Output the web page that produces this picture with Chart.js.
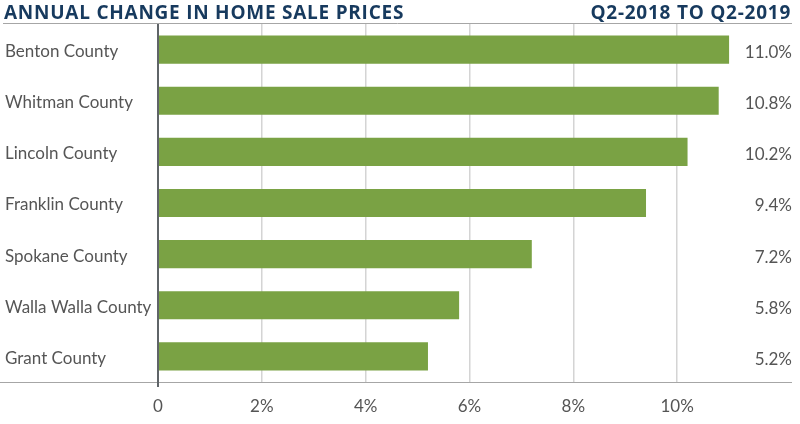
<!DOCTYPE html>
<html>
<head>
<meta charset="utf-8">
<script src="https://cdn.jsdelivr.net/npm/chart.js@4.4.0/dist/chart.umd.min.js"></script>
<style>
  body { margin: 0; background: #fff; }
  #wrap { position: relative; width: 800px; height: 424px; }
  .title { position: absolute; top: 0; font-family: "Open Sans", sans-serif; font-weight: 700;
           font-size: 19px; line-height: 24px; color: #173a5e; letter-spacing: 0.75px; }
  #titleLeft { left: 4px; }
  #titleRight { right: 9px; }
</style>
</head>
<body>
<div id="wrap">
  <canvas id="chart" width="800" height="424"></canvas>
  <div class="title" id="titleLeft">ANNUAL CHANGE IN HOME SALE PRICES</div>
  <div class="title" id="titleRight">Q2-2018 TO Q2-2019</div>
</div>
<script>
// chart data
const counties = ["Benton County", "Whitman County", "Lincoln County", "Franklin County",
                  "Spokane County", "Walla Walla County", "Grant County"];
const priceChange = [11.0, 10.8, 10.2, 9.4, 7.2, 5.8, 5.2];
const xTicks = [0, 2, 4, 6, 8, 10];

const labelFont = { family: "Lato, sans-serif", size: 17 };

// frame lines + value labels at the right
const framePlugin = {
    id: "frame",
    afterDraw(chart) {
        const ctx = chart.ctx;
        const area = chart.chartArea;
        ctx.save();
        ctx.strokeStyle = "#a6a6a6";
        ctx.lineWidth = 1;
        ctx.beginPath();
        ctx.moveTo(3, area.top - 0.5);
        ctx.lineTo(792, area.top - 0.5);
        ctx.moveTo(0, area.bottom + 0.5);
        ctx.lineTo(792, area.bottom + 0.5);
        ctx.stroke();

        // zero line drawn on top
        const x0 = chart.scales.x.getPixelForValue(0);
        ctx.strokeStyle = "#5f6468";
        ctx.lineWidth = 2;
        ctx.beginPath();
        ctx.moveTo(x0, area.top);
        ctx.lineTo(x0, area.bottom + 5);
        ctx.stroke();

        ctx.fillStyle = "#555555";
        ctx.font = "17px Lato, sans-serif";
        ctx.textAlign = "right";
        ctx.textBaseline = "middle";
        const meta = chart.getDatasetMeta(0);
        meta.data.forEach((bar, i) => {
            ctx.fillText(priceChange[i].toFixed(1) + "%", 792, bar.y + 3);
        });
        ctx.restore();
    }
};

new Chart(document.getElementById("chart"), {
    type: "bar",
    data: {
        labels: counties,
        datasets: [{
            data: priceChange,
            backgroundColor: "#7aa244",
            borderWidth: 0,
            barPercentage: 0.55,
            categoryPercentage: 1.0
        }]
    },
    options: {
        indexAxis: "y",
        responsive: false,
        animation: false,
        layout: { padding: { top: 24, right: 19, left: 5, bottom: 0 } },
        plugins: {
            legend: { display: false },
            tooltip: { enabled: false }
        },
        scales: {
            x: {
                min: 0,
                max: 12,
                afterBuildTicks: (scale) => {
                    scale.ticks = xTicks.map((v) => ({ value: v }));
                },
                afterFit: (scale) => { scale.height = 42; },
                border: { display: false },
                grid: {
                    color: (c) => (c.tick && c.tick.value === 0 ? "rgba(0,0,0,0)" : "#d4d4d4"),
                    lineWidth: 1.5,
                    drawTicks: false
                },
                ticks: {
                    padding: 14,
                    color: "#555555",
                    font: labelFont,
                    callback: (v) => (v === 0 ? "0" : v + "%")
                }
            },
            y: {
                afterFit: (scale) => { scale.width = 153; },
                border: { display: false },
                grid: { display: false },
                ticks: {
                    crossAlign: "far",
                    labelOffset: 2,
                    color: "#555555",
                    font: labelFont
                }
            }
        }
    },
    plugins: [framePlugin]
});
</script>
</body>
</html>
